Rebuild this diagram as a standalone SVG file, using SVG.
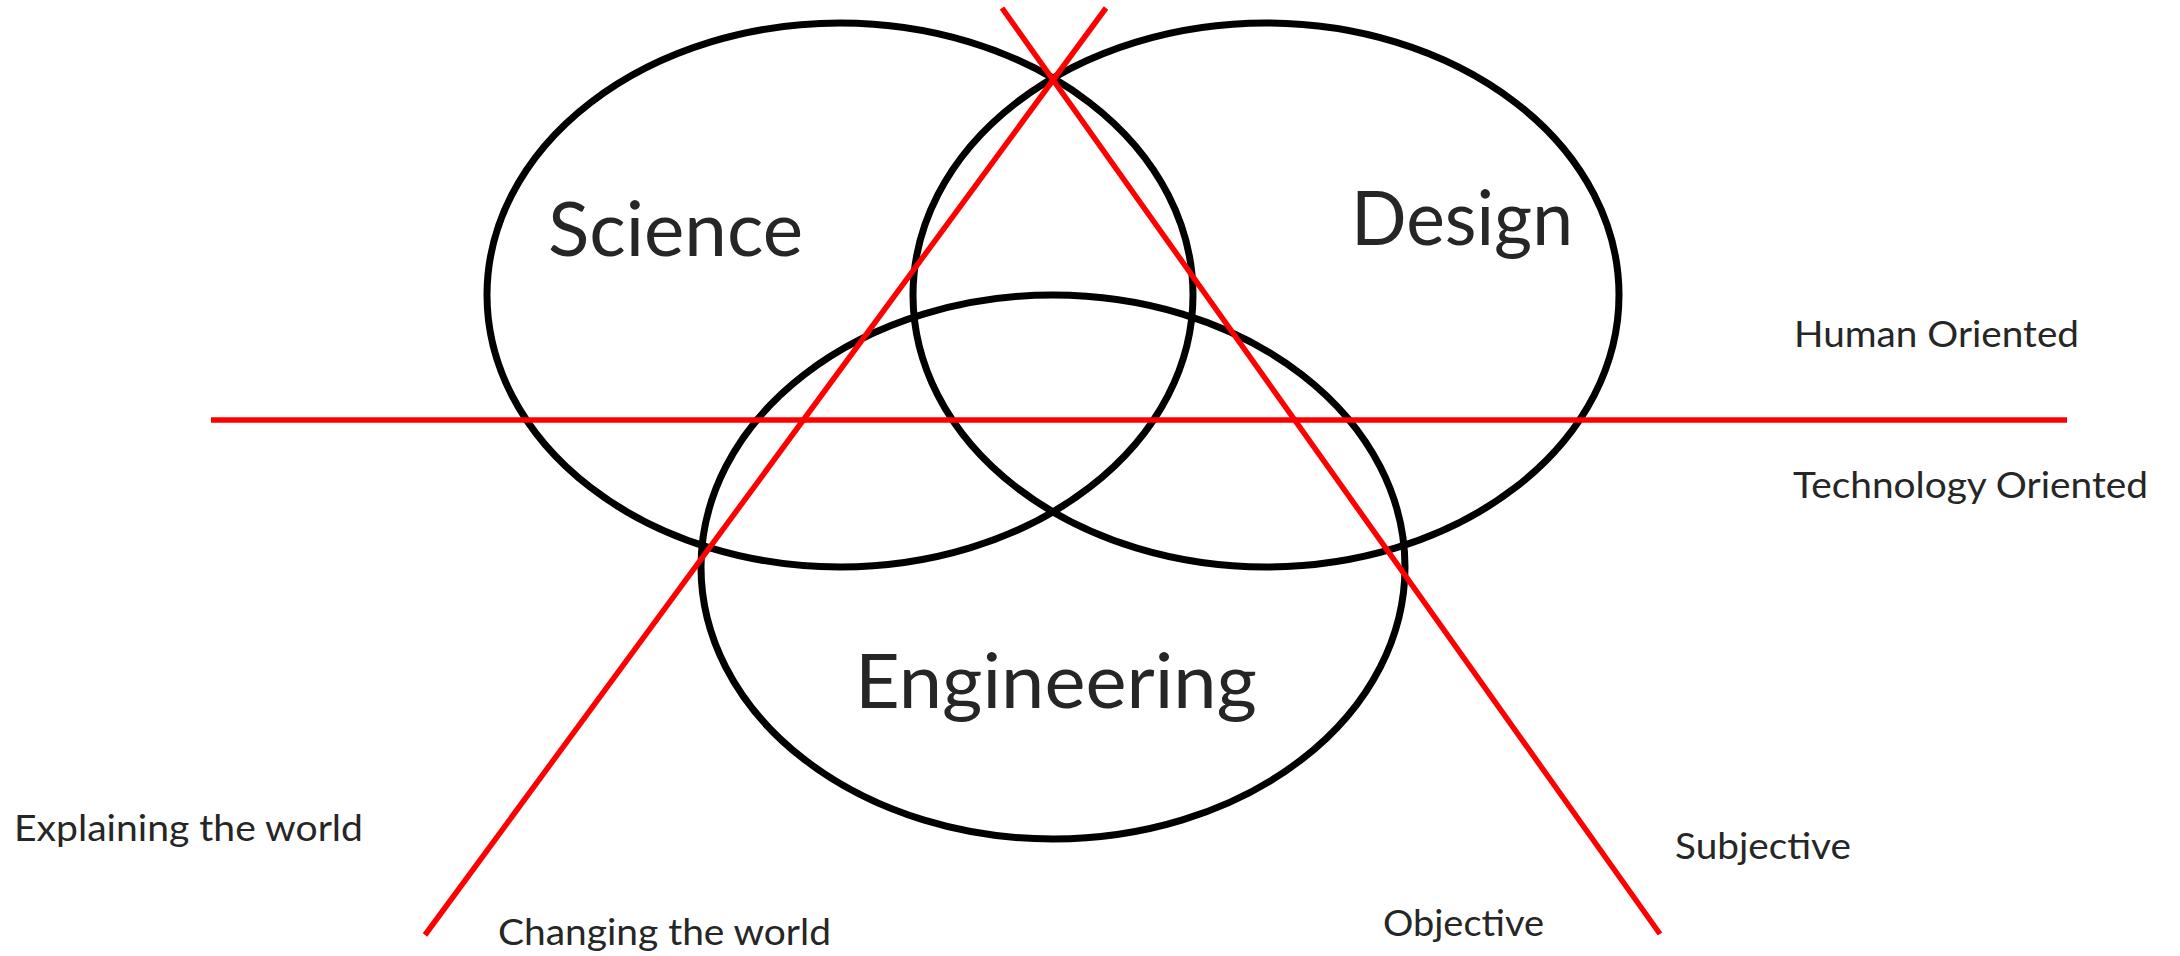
<svg xmlns="http://www.w3.org/2000/svg" width="2180" height="956" viewBox="0 0 2180 956">
  <style>
    .set { fill: none; stroke: #000000; stroke-width: 7; }
    .divider { stroke: #ff0000; stroke-width: 5.5; fill: none; stroke-linecap: butt; }
    .title { font-family: Lato, "Open Sans", "Liberation Sans", sans-serif; font-size: 75px; fill: #262626; }
    .label { font-family: Lato, "Open Sans", "Liberation Sans", sans-serif; font-size: 37px; fill: #262626; }
  </style>
  <rect width="2180" height="956" fill="#ffffff"/>

  <!-- The three overlapping disciplines -->
  <g id="science">
    <ellipse class="set" cx="840" cy="295" rx="353" ry="272"/>
    <text class="title" x="548" y="256" textLength="255" lengthAdjust="spacingAndGlyphs">Science</text>
  </g>
  <g id="design">
    <ellipse class="set" cx="1266" cy="295" rx="353" ry="272"/>
    <text class="title" x="1351" y="245" textLength="222" lengthAdjust="spacingAndGlyphs">Design</text>
  </g>
  <g id="engineering">
    <ellipse class="set" cx="1053" cy="567" rx="352" ry="272"/>
    <text class="title" x="855" y="708" textLength="402" lengthAdjust="spacingAndGlyphs">Engineering</text>
  </g>

  <!-- Dividing axes -->
  <g id="connectors">
    <line class="divider" x1="211" y1="420" x2="2067" y2="420"/>
    <line class="divider" x1="425" y1="935" x2="1106" y2="8"/>
    <line class="divider" x1="1002" y1="8" x2="1660" y2="934"/>
  </g>

  <!-- Axis labels -->
  <g id="axis-labels">
    <text class="label" x="1794" y="347" textLength="285" lengthAdjust="spacingAndGlyphs">Human Oriented</text>
    <text class="label" x="1793" y="498" textLength="355" lengthAdjust="spacingAndGlyphs">Technology Oriented</text>
    <text class="label" x="14" y="841" textLength="349" lengthAdjust="spacingAndGlyphs">Explaining the world</text>
    <text class="label" x="498" y="945" textLength="333" lengthAdjust="spacingAndGlyphs">Changing the world</text>
    <text class="label" x="1675" y="859" textLength="176" lengthAdjust="spacingAndGlyphs">Subjective</text>
    <text class="label" x="1383" y="936" textLength="161" lengthAdjust="spacingAndGlyphs">Objective</text>
  </g>
</svg>
